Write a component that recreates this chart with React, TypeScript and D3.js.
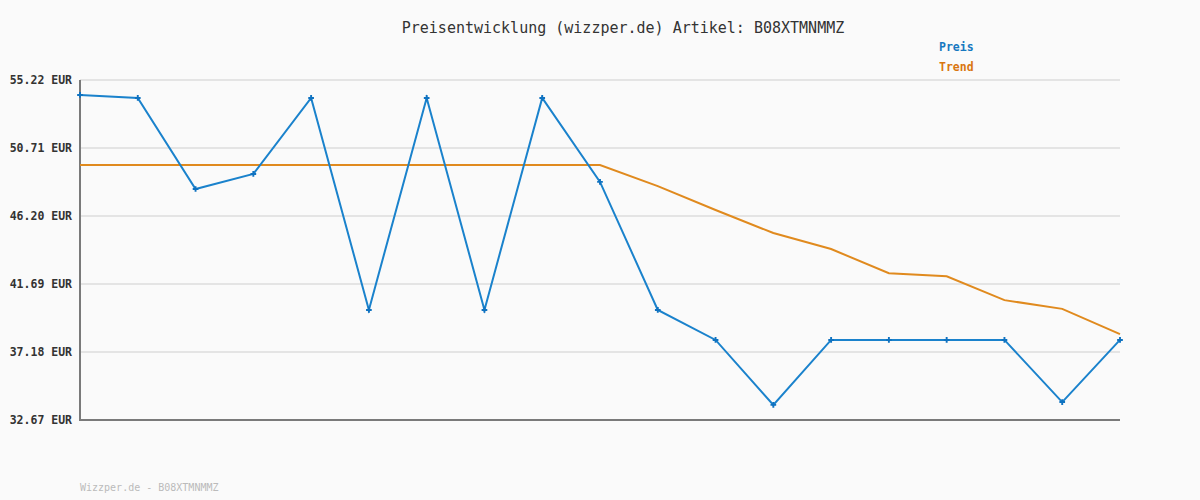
import { useEffect, useRef } from 'react';
import * as d3 from 'd3';

// values
const tickLabels = ['32.67', '37.18', '41.69', '46.20', '50.71', '55.22'];
const preis = [
  54.23, 54.03, 47.99, 48.99, 54.03, 39.97, 54.03, 39.97, 54.03, 48.46,
  39.97, 37.98, 33.67, 37.98, 37.98, 37.98, 37.98, 33.86, 37.98,
];
const trend = [
  49.58, 49.58, 49.58, 49.58, 49.58, 49.58, 49.58, 49.58, 49.58, 49.58,
  48.18, 46.6, 45.07, 44.01, 42.4, 42.2, 40.62, 40.04, 38.37,
];
const seriesNames = ['Preis', 'Trend'];
const seriesColors = ['#1a82cc', '#e08a1e'];
const legendColors = ['#1778c0', '#d97610'];

export default function App() {
  const svgRef = useRef<SVGSVGElement>(null);

  useEffect(() => {
    if (!svgRef.current) return;
    const svg = d3.select(svgRef.current);
    svg.selectAll('*').remove();

    const width = 1200;
    const height = 500;
    const margin = { top: 80, right: 80, bottom: 80, left: 80 };
    const font = '"DejaVu Sans Mono", monospace';

    svg.append('rect').attr('width', width).attr('height', height).attr('fill', '#fafafa');

    const x = d3
      .scaleLinear()
      .domain([0, preis.length - 1])
      .range([margin.left, width - margin.right]);
    const y = d3
      .scaleLinear()
      .domain([32.67, 55.22])
      .range([height - margin.bottom, margin.top]);

    // Title
    svg
      .append('text')
      .attr('x', 623)
      .attr('y', 33)
      .attr('text-anchor', 'middle')
      .attr('font-family', font)
      .attr('font-size', 15)
      .attr('fill', '#333')
      .text('Preisentwicklung (wizzper.de) Artikel: B08XTMNMMZ');

    // Grid lines + tick labels
    const ticks = tickLabels.map(Number);
    svg
      .append('g')
      .selectAll('line')
      .data(ticks)
      .enter()
      .append('line')
      .attr('x1', margin.left)
      .attr('x2', width - margin.right)
      .attr('y1', (d) => y(d))
      .attr('y2', (d) => y(d))
      .attr('stroke', '#e4e4e4')
      .attr('stroke-width', 2);

    svg
      .append('g')
      .selectAll('text')
      .data(tickLabels)
      .enter()
      .append('text')
      .attr('x', 72)
      .attr('y', (d) => y(Number(d)) + 4)
      .attr('text-anchor', 'end')
      .attr('font-family', font)
      .attr('font-size', 11.5)
      .attr('font-weight', 'bold')
      .attr('fill', '#333')
      .text((d) => `${d} EUR`);

    // Axes
    svg
      .append('line')
      .attr('x1', margin.left)
      .attr('x2', margin.left)
      .attr('y1', margin.top)
      .attr('y2', height - margin.bottom)
      .attr('stroke', '#7a7a7a')
      .attr('stroke-width', 2);
    svg
      .append('line')
      .attr('x1', margin.left - 1)
      .attr('x2', width - margin.right)
      .attr('y1', height - margin.bottom)
      .attr('y2', height - margin.bottom)
      .attr('stroke', '#7a7a7a')
      .attr('stroke-width', 2);

    const line = d3
      .line<number>()
      .x((d, i) => x(i))
      .y((d) => y(d));

    // Trend line
    svg
      .append('path')
      .datum(trend)
      .attr('d', line)
      .attr('fill', 'none')
      .attr('stroke', seriesColors[1])
      .attr('stroke-width', 2);

    // Price line
    svg
      .append('path')
      .datum(preis)
      .attr('d', line)
      .attr('fill', 'none')
      .attr('stroke', seriesColors[0])
      .attr('stroke-width', 2);

    // Price markers (small crosses)
    const cross = d3.symbol().type(d3.symbolCross).size(18);
    svg
      .append('g')
      .selectAll('path')
      .data(preis)
      .enter()
      .append('path')
      .attr('d', cross)
      .attr('transform', (d, i) => `translate(${x(i)},${y(d)})`)
      .attr('fill', '#0f72c0');

    // Legend
    seriesNames.forEach((name, i) => {
      svg
        .append('text')
        .attr('x', 939)
        .attr('y', 51 + i * 20)
        .attr('font-family', font)
        .attr('font-size', 11.5)
        .attr('font-weight', 'bold')
        .attr('fill', legendColors[i])
        .text(name);
    });

    // Footer
    svg
      .append('text')
      .attr('x', 80)
      .attr('y', 491)
      .attr('font-family', font)
      .attr('font-size', 10)
      .attr('fill', '#bbbbbb')
      .text('Wizzper.de - B08XTMNMMZ');
  }, []);

  return (
    <svg
      ref={svgRef}
      width={1200}
      height={500}
      style={{ position: 'fixed', left: 0, top: 0, display: 'block' }}
    />
  );
}
